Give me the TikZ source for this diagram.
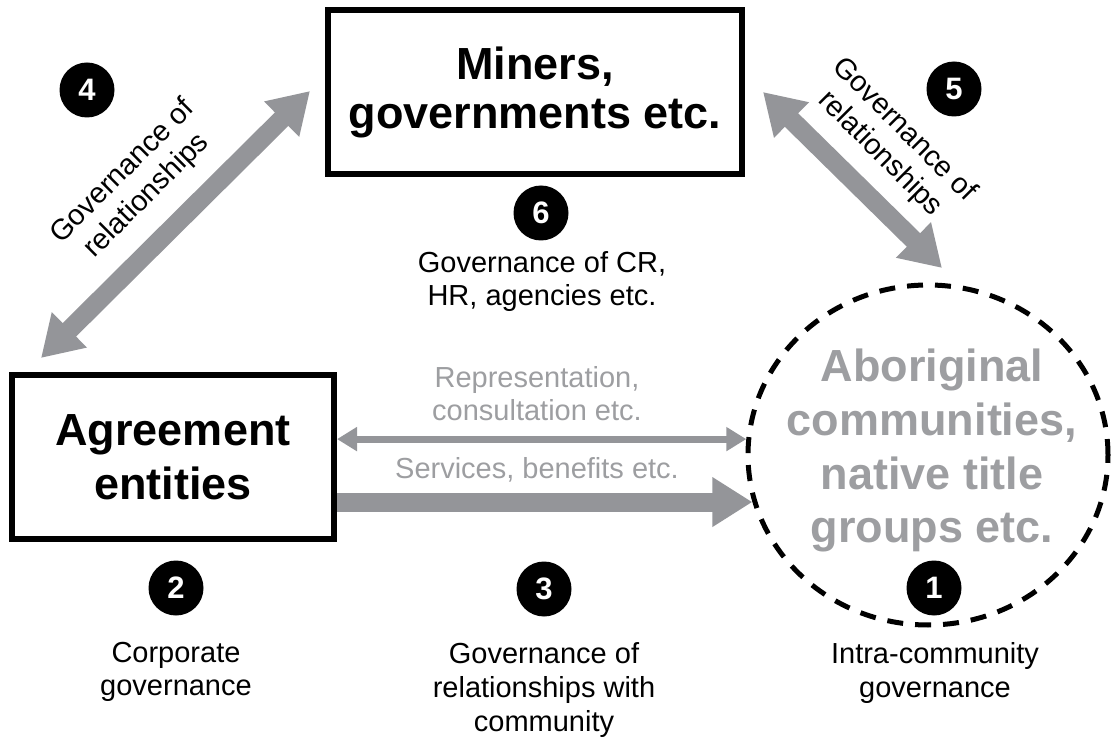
\documentclass[tikz,border=0pt]{standalone}
\usepackage{fontspec}
\setmainfont{Liberation Sans}
\usetikzlibrary{arrows.meta,shapes.geometric}
\definecolor{arrowgray}{RGB}{148,149,153}
\definecolor{textgray}{RGB}{157,158,161}
\begin{document}
\begin{tikzpicture}[x=1pt,y=-1pt,
  entitybox/.style={draw, rectangle, line width=6pt, inner sep=0pt,
    minimum width=#1, minimum height=164pt, align=center},
  commellipse/.style={draw, ellipse, line width=5pt, dash pattern=on 16pt off 12pt,
    minimum width=360pt, minimum height=340pt, inner sep=0pt},
  bigtext/.style={align=center, anchor=north, inner sep=0pt, text=textgray,
    font=\fontsize{45}{53.7}\selectfont\bfseries},
  badge/.style={circle, fill=black, minimum size=55pt, inner sep=0pt, text=white,
    font=\fontsize{31}{31}\selectfont\bfseries},
  smalllabel/.style={align=center, anchor=north, inner sep=0pt,
    font=\fontsize{29}{33.5}\selectfont},
  graylabel/.style={smalllabel, text=textgray},
  rotlabel/.style={align=center, inner sep=0pt, font=\fontsize{29}{34}\selectfont},
  thickarrow/.style={arrowgray, line width=19pt, -{Triangle[width=47pt,length=40pt]}},
  thickboth/.style={arrowgray, line width=19pt,
    {Triangle[width=47pt,length=40pt]}-{Triangle[width=47pt,length=40pt]}},
  thinboth/.style={arrowgray, line width=7pt,
    {Triangle[width=23pt,length=20pt]}-{Triangle[width=23pt,length=20pt]}}
]
\useasboundingbox (0,0) rectangle (1112,738);

% main entities
\node[entitybox=414pt, font=\fontsize{45}{49}\selectfont\bfseries] (miners) at (535,92)
  {Miners,\\governments etc.};
\node[entitybox=322pt, font=\fontsize{45}{54}\selectfont\bfseries] (agree) at (173,457)
  {Agreement\\entities};
\node[commellipse] (comm) at (928,455) {};
\node[bigtext] (commtext) at (932,349) {Aboriginal\\communities,\\native title\\groups etc.};

% connector end points
\coordinate (p4a) at (41,358);
\coordinate (p4b) at (310,91);
\coordinate (p5a) at (763,92);
\coordinate (p5b) at (942,268);

% connectors
\draw[thickboth] (p4a) -- (p4b);
\draw[thickboth] (p5a) -- (p5b);
\draw[thinboth] (agree.east |- comm.175) -- (comm.175);
\draw[thickarrow] (agree.east |- comm.195) -- (comm.195);

% rotated labels
\node[rotlabel, rotate=45] (lab4) at (135,184) {Governance of\\relationships};
\node[rotlabel, rotate=-45] (lab5) at (892,142) {Governance of\\relationships};

% arrow labels
\node[graylabel] (rep) at (537,366) {Representation,\\consultation etc.};
\node[graylabel] (serv) at (537,457) {Services, benefits etc.};

% numbered badges
\node[badge] (n1) at (934,588) {1};
\node[badge] (n2) at (176,588) {2};
\node[badge] (n3) at (544,589) {3};
\node[badge] (n4) at (87,90) {4};
\node[badge] (n5) at (954,89) {5};
\node[badge] (n6) at (541,213) {6};

% descriptions
\node[smalllabel] (d6) at (542,251) {Governance of CR,\\HR, agencies etc.};
\node[smalllabel] (d2) at (176,642) {Corporate\\governance};
\node[smalllabel, font=\fontsize{29}{34}\selectfont] (d3) at (544,642)
  {Governance of\\relationships with\\community};
\node[smalllabel, font=\fontsize{29}{34}\selectfont] (d1) at (935,642)
  {Intra-community\\governance};
\end{tikzpicture}
\end{document}
